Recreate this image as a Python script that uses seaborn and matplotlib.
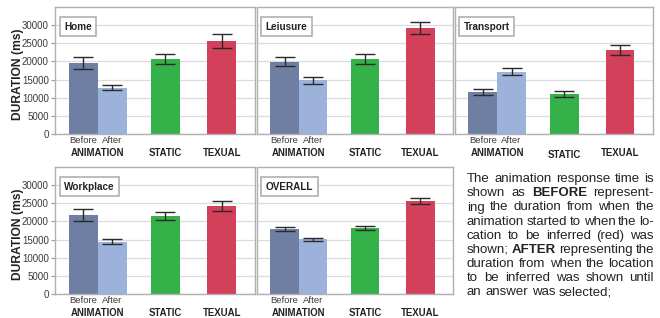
import pandas as pd
import matplotlib.pyplot as plt
import seaborn as sns

# bar order inside every panel
conditions = ['Before', 'After', 'STATIC', 'TEXUAL']

# mean response time (ms) and half error bar
home_mean = [19600, 12700, 20650, 25650]
home_err = [1550, 690, 1380, 1970]
leisure_mean = [19900, 14750, 20700, 29150]
leisure_err = [1240, 870, 1330, 1650]
transport_mean = [11600, 17200, 11100, 23150]
transport_err = [780, 870, 780, 1510]
workplace_mean = [21750, 14450, 21500, 24200]
workplace_err = [1740, 780, 1100, 1420]
overall_mean = [17950, 15150, 18200, 25600]
overall_err = [640, 410, 640, 780]

panel_titles = ['Home', 'Leiusure', 'Transport', 'Workplace', 'OVERALL']
panel_means = [home_mean, leisure_mean, transport_mean, workplace_mean, overall_mean]
panel_errs = [home_err, leisure_err, transport_err, workplace_err, overall_err]

y_ticks = [0, 5000, 10000, 15000, 20000, 25000, 30000]

note_lines = [
    'The animation response time is',
    'shown as **BEFORE** represent-',
    'ing the duration from when the',
    'animation started to when the lo-',
    'cation to be inferred (red) was',
    'shown; **AFTER** representing the',
    'duration from when the location',
    'to be inferred was shown until',
    'an answer was selected;',
]

# layout / style
x_pos = [0, 1, 2.84, 4.78]
colors = {'Before': '#6f7fa3', 'After': '#9db2db', 'STATIC': '#35b14a', 'TEXUAL': '#d3405a'}
W, H = 660, 318
# (left, right, top, bottom) in pixels
boxes = [(55, 255, 7, 134), (257, 453, 7, 134), (455, 653, 7, 134),
         (55, 255, 167, 294), (257, 453, 167, 294)]

sns.set_style('white')
plt.rcParams['font.family'] = ['Liberation Sans', 'DejaVu Sans']

fig = plt.figure(figsize=(W / 100, H / 100), dpi=100)

for i, (title, means, errs) in enumerate(zip(panel_titles, panel_means, panel_errs)):
    l, r, t, b = boxes[i]
    ax = fig.add_axes([l / W, 1 - b / H, (r - l) / W, (b - t) / H])
    df = pd.DataFrame({'condition': conditions, 'pos': x_pos, 'duration': means})
    sns.barplot(data=df, x='pos', y='duration', hue='condition', palette=colors,
                native_scale=True, width=1.0, dodge=False, errorbar=None,
                saturation=1, linewidth=0, legend=False, ax=ax)
    ax.errorbar(x_pos, means, yerr=errs, fmt='none', ecolor='#2a2a2a',
                elinewidth=1, capsize=7, capthick=1, zorder=5)

    ax.set_xlim(-0.97, 5.93)
    ax.set_ylim(0, 35000)
    ax.set_yticks(y_ticks)
    ax.grid(axis='y', color='#dcdcdc', lw=0.9)
    ax.set_axisbelow(True)
    for s in ax.spines.values():
        s.set_color('#b0b0b0')
        s.set_linewidth(1)

    ax.set_xticks([0, 1])
    ax.set_xticklabels(['Before', 'After'], fontsize=6.8, color='#3a3a3a')
    ax.tick_params(axis='x', length=0, pad=1.5)
    ax.set_xlabel('')
    ax.set_ylabel('')
    if l == 55:
        ax.tick_params(axis='y', left=True, length=3, width=0.8, color='#999999',
                       labelsize=7, labelcolor='#3a3a3a', pad=1.5)
    else:
        ax.tick_params(axis='y', left=False, labelleft=False)

    # group labels under the bars
    groups = [('ANIMATION', 0.5), ('STATIC', x_pos[2]), ('TEXUAL', x_pos[3])]
    for name, gx in groups:
        dy = -21 if (title == 'Transport' and name == 'STATIC') else -19
        ax.annotate(name, xy=(gx, 0), xycoords=('data', 'axes fraction'),
                    xytext=(0, dy * 0.72), textcoords='offset points',
                    ha='center', va='center', fontsize=6.9, fontweight='bold',
                    color='#222222')

    ax.text(0.045, 0.845, title, transform=ax.transAxes, ha='left', va='center',
            fontsize=7.2, fontweight='bold', color='#222222', zorder=6,
            bbox=dict(boxstyle='square,pad=0.45', fc='white', ec='#b0b0b0', lw=1.2))

for yc in (74, 234):
    fig.text(18 / W, 1 - yc / H, 'DURATION (ms)', rotation=90, ha='center',
             va='center', fontsize=8.7, fontweight='bold', color='#222222')

# justified paragraph on the right
renderer = fig.canvas.get_renderer()
x0, x1 = 467, 654
fs = 9.5
for k, line in enumerate(note_lines):
    ybase = 182.3 + k * 14.1
    words = []
    for w in line.split(' '):
        bold = w.startswith('**')
        words.append((w.replace('**', ''), bold))
    objs = []
    total = 0
    for w, bold in words:
        tx = fig.text(0, 0, w, fontsize=fs, fontweight='bold' if bold else 'normal',
                      ha='left', va='baseline', color='#222222')
        wpx = tx.get_window_extent(renderer).width
        objs.append((tx, wpx))
        total += wpx
    if k == len(note_lines) - 1:
        gap = 0.278 * fs * 100 / 72
    else:
        gap = (x1 - x0 - total) / (len(words) - 1)
    x = x0
    for tx, wpx in objs:
        tx.set_position((x / W, 1 - ybase / H))
        x += wpx + gap

fig.savefig('out.png', dpi=100)
